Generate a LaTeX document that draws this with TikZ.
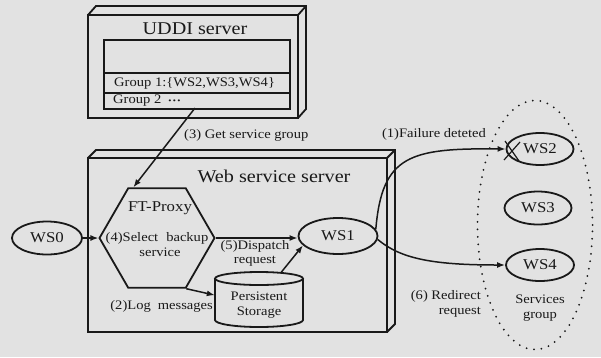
\documentclass[tikz,border=0pt]{standalone}
\usepackage{fontspec}
\setmainfont[FakeStretch=1.12]{Liberation Serif}
\usetikzlibrary{arrows.meta,shapes.geometric}
\definecolor{ink}{RGB}{25,25,25}
\definecolor{bg}{RGB}{226,226,226}
\begin{document}
\begin{tikzpicture}[x=1pt,y=-1pt,
  box/.style={draw=ink, line width=1.8pt, line join=miter},
  ell/.style={ellipse, draw=ink, line width=1.8pt, inner sep=0pt, text=ink, font=\fontsize{15}{17}\selectfont},
  lbl/.style={font=\fontsize{13}{14.5}\selectfont, inner sep=0pt, text=ink},
  ttl/.style={font=\fontsize{18}{20}\selectfont, inner sep=0pt, text=ink},
  arr/.style={draw=ink, line width=1.5pt, -{Latex[length=8pt,width=6pt]}},
  dots/.style={draw=ink, line width=2pt, line cap=round, dash pattern=on 0pt off 7.5pt},
]
\fill[bg] (0,0) rectangle (601,357);
\useasboundingbox (0,0) rectangle (601,357);

% UDDI server
\draw[box] (88,15) rectangle (298,118);
\draw[box] (88,15) -- (96,6) -- (306,6) -- (306,109) -- (298,118);
\draw[box] (298,15) -- (306,6);
\node[ttl] (uddi) at (195,29) {UDDI server};
\node[box, draw, minimum width=186pt, minimum height=69pt, inner sep=0pt, anchor=north west] (tbl) at (103,39) {};
\draw[box] (tbl.west |- 0,73) -- (tbl.east |- 0,73);
\draw[box, line width=1.3pt] (tbl.west |- 0,93) -- (tbl.east |- 0,93);
\node[lbl, anchor=west] (g1) at (114,83.5) {Group 1:\{WS2,WS3,WS4\}};
\node[lbl, anchor=west] (g2) at (113,100.5) {Group 2\hspace{7pt}{\fontsize{8}{8}\selectfont\textbullet\,\textbullet\,\textbullet}};

% Web service server
\draw[box] (88,158) rectangle (387,332);
\draw[box] (88,158) -- (96,150) -- (395,150) -- (395,324) -- (387,332);
\draw[box] (387,158) -- (395,150);
\node[ttl] (wss) at (274,176) {Web service server};

% FT-Proxy
\node[regular polygon, regular polygon sides=6, draw=ink, line width=1.8pt, minimum size=115pt, inner sep=0pt] (fp) at (157,238) {};
\node[font=\fontsize{15}{17}\selectfont, inner sep=0pt, text=ink] (fpt) at (160,208) {FT-Proxy};
\node[lbl] (fps) at (157,238) {(4)Select\hspace{8pt}backup};
\node[lbl] (fpv) at (160,252) {service};

% Persistent storage
\node[ellipse, draw=ink, line width=1.8pt, minimum width=88pt, minimum height=13pt, inner sep=0pt] (pstop) at (259,278.5) {};
\draw[box] (215,278.5) -- (215,320) arc[start angle=180, end angle=360, x radius=44pt, y radius=7pt] -- (303,278.5);
\node[minimum width=88pt, minimum height=41.5pt, inner sep=0pt] (ps) at (259,299) {};
\node[lbl, align=center] (pstxt) at (259,305) {Persistent\\Storage};

% services
\node[ell, minimum width=70pt, minimum height=33pt] (ws0) at (47,238) {WS0};
\node[ell, minimum width=79pt, minimum height=36pt] (ws1) at (338,236) {WS1};
\node[ell, minimum width=67pt, minimum height=32pt] (ws2) at (540,149) {WS2};
\node[ell, minimum width=67pt, minimum height=33pt] (ws3) at (538,208) {WS3};
\node[ell, minimum width=68pt, minimum height=32pt] (ws4) at (540,265) {WS4};
\node[ellipse, dots, minimum width=115pt, minimum height=249pt, inner sep=0pt] (grp) at (535,225) {};
\draw[ink, line width=1.2pt] (505,141) -- (519,161) (520,142) -- (504,160);

% connectors
\coordinate (g3) at (195,108);
\draw[arr] (g3) -- (fp.115);
\draw[arr] (ws0.east) -- (fp.west);
\draw[arr] (fp.east) -- (fp.east -| ws1.west);
\draw[arr] (fp.-60) -- (ps.175);
\draw[arr] (pstop.16) -- (ws1.195);
\draw[arr] (ws1.10) .. controls (382,155) and (410,148) .. (ws2.west);
\draw[arr] (ws1.-5) .. controls (400,258) and (430,265) .. (ws4.west);

% labels
\node[lbl, anchor=west] (l3) at (184,135) {(3) Get service group};
\node[lbl] (l1) at (434,134) {(1)Failure deteted};
\node[lbl, align=center] (l5) at (255,253.5) {(5)Dispatch\\request};
\node[lbl, anchor=east] (l2) at (213,306) {(2)Log\hspace{7pt}messages};
\node[lbl, align=right, anchor=east] (l6) at (481,304) {(6)\ Redirect\\request};
\node[lbl, align=center] (sg) at (540,308) {Services\\group};
\end{tikzpicture}
\end{document}
